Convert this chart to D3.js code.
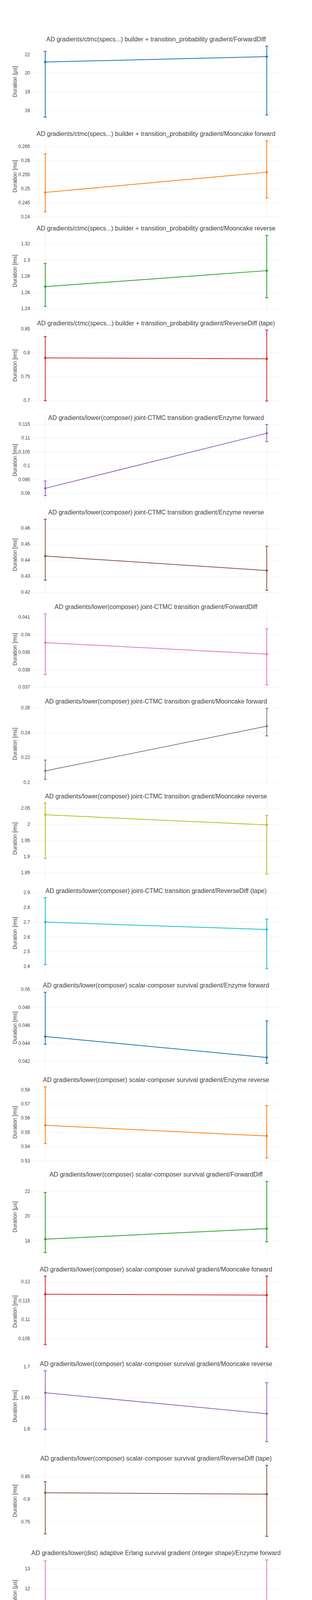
<!DOCTYPE html>
<html>
<head>
<meta charset="utf-8">
<script src="https://cdn.jsdelivr.net/npm/d3@7"></script>
<style>
  body { margin: 0; background: #fff; }
  svg { display: block; }
</style>
</head>
<body>
<div id="chart"></div>
<script>
// ---------------- data ----------------
const revisions = ["v0.1.0", "c41bf366a751375f2bccb2f2bb68ec67a6baf5c9"];

const titles = [
  "AD gradients/ctmc(specs...) builder + transition_probability gradient/ForwardDiff",
  "AD gradients/ctmc(specs...) builder + transition_probability gradient/Mooncake forward",
  "AD gradients/ctmc(specs...) builder + transition_probability gradient/Mooncake reverse",
  "AD gradients/ctmc(specs...) builder + transition_probability gradient/ReverseDiff (tape)",
  "AD gradients/lower(composer) joint-CTMC transition gradient/Enzyme forward",
  "AD gradients/lower(composer) joint-CTMC transition gradient/Enzyme reverse",
  "AD gradients/lower(composer) joint-CTMC transition gradient/ForwardDiff",
  "AD gradients/lower(composer) joint-CTMC transition gradient/Mooncake forward",
  "AD gradients/lower(composer) joint-CTMC transition gradient/Mooncake reverse",
  "AD gradients/lower(composer) joint-CTMC transition gradient/ReverseDiff (tape)",
  "AD gradients/lower(composer) scalar-composer survival gradient/Enzyme forward",
  "AD gradients/lower(composer) scalar-composer survival gradient/Enzyme reverse",
  "AD gradients/lower(composer) scalar-composer survival gradient/ForwardDiff",
  "AD gradients/lower(composer) scalar-composer survival gradient/Mooncake forward",
  "AD gradients/lower(composer) scalar-composer survival gradient/Mooncake reverse",
  "AD gradients/lower(composer) scalar-composer survival gradient/ReverseDiff (tape)",
  "AD gradients/lower(dist) adaptive Erlang survival gradient (integer shape)/Enzyme forward",
  "AD gradients/lower(dist) adaptive Erlang survival gradient (integer shape)/Enzyme reverse",
  "AD gradients/lower(dist) adaptive Erlang survival gradient (integer shape)/ForwardDiff",
  "AD gradients/lower(dist) adaptive Erlang survival gradient (integer shape)/Mooncake forward"
];

const units = ["μs","ms","ms","ms","ms","ms","ms","ms","ms","ms",
               "ms","ms","μs","ms","ms","ms","μs","ms","μs","ms"];

// first revision (v0.1.0)
const meanBase = [21.19, 0.2486, 1.2670, 0.7888, 0.09183, 0.44244, 0.039543, 0.20921, 2.0294, 2.700,
                  0.044742, 0.55488, 18.136, 0.11669, 1.65783, 0.81379, 10.171, 0.25605, 7.591, 0.038186];
const highBase = [22.33, 0.2624, 1.2957, 0.8333, 0.09448, 0.46544, 0.041195, 0.21792, 2.0658, 2.8658,
                  0.049681, 0.58193, 21.896, 0.12148, 1.6935, 0.83819, 13.386, 0.26967, 7.997, 0.04023];
const lowBase  = [15.27, 0.2417, 1.2427, 0.6992, 0.0892, 0.4274, 0.037717, 0.20233, 1.8943, 2.4116,
                  0.043882, 0.54193, 17.062, 0.10334, 1.59855, 0.72293, 9.871, 0.25, 7.231, 0.029086];
// second revision (commit)
const meanHead = [21.77, 0.2558, 1.2867, 0.7869, 0.11165, 0.43341, 0.038888, 0.24513, 1.9979, 2.65,
                  0.042393, 0.54736, 18.989, 0.11645, 1.62412, 0.8106, 10.333, 0.25601, 7.707, 0.037708];
const highHead = [22.89, 0.2670, 1.3301, 0.8472, 0.11476, 0.44863, 0.040336, 0.25937, 2.027, 2.7203,
                  0.04648, 0.56882, 22.79, 0.12148, 1.67424, 0.8744, 13.439, 0.26992, 8.934, 0.03955];
const lowHead  = [15.51, 0.2466, 1.2533, 0.6984, 0.10865, 0.42112, 0.037126, 0.23736, 1.8456, 2.3842,
                  0.041751, 0.53193, 17.924, 0.10269, 1.57898, 0.7175, 10.073, 0.24794, 7.297, 0.027858];

const xAxisTitle = "Revision";

// ---------------- layout ----------------
const W = 800, H = 5000;
const left = 80, right = 720;
const top0 = 100, pitch = 242.2, ph = 218.2;
const colors = d3.schemeCategory10;
const textColor = "#444";
const gridColor = "#eee";
const font = "'Liberation Sans', Arial, sans-serif";

const svg = d3.select("#chart").append("svg")
  .attr("width", W).attr("height", H)
  .style("font-family", font);

const x = d3.scalePoint().domain(revisions).range([left, right]).padding(0.0634);

function tickStep(span, len) {
  const nt = Math.max(4, Math.min(9, len / 40)) + 1;
  const rough = span / nt;
  const base = Math.pow(10, Math.floor(Math.log10(rough)));
  const m = [2, 5, 10].find(v => v >= rough / base - 1e-9);
  return base * m;
}

titles.forEach((title, i) => {
  const top = top0 + i * pitch, bottom = top + ph;
  const color = colors[i % colors.length];
  const lo = Math.min(lowBase[i], lowHead[i]);
  const hi = Math.max(highBase[i], highHead[i]);
  const pad = (hi - lo) * 0.1;
  const d0 = lo - pad, d1 = hi + pad;
  const y = d3.scaleLinear().domain([d0, d1]).range([bottom, top]);

  const step = tickStep(d1 - d0, ph);
  const dec = Math.max(0, -Math.floor(Math.log10(step) + 1e-9));
  const k0 = Math.ceil(d0 / step - 1e-9), k1 = Math.floor(d1 / step + 1e-9);
  const tickVals = d3.range(k0, k1 + 1).map(k => +(k * step).toFixed(dec + 2));

  const g = svg.append("g");

  // vertical grid lines (x categories)
  g.append("g").selectAll("line").data(revisions).join("line")
    .attr("x1", d => x(d)).attr("x2", d => x(d))
    .attr("y1", top).attr("y2", bottom)
    .attr("stroke", gridColor).attr("stroke-width", 1);

  // y axis with horizontal grid
  const yAxis = g.append("g")
    .attr("transform", `translate(${left},0)`)
    .call(d3.axisLeft(y).tickValues(tickVals)
      .tickSize(-(right - left)).tickPadding(3)
      .tickFormat(v => String(+v.toFixed(dec))));
  yAxis.select(".domain").remove();
  yAxis.selectAll(".tick line").attr("stroke", gridColor).attr("stroke-width", 1);
  yAxis.selectAll(".tick text")
    .attr("fill", textColor).style("font-size", "12px").style("font-family", font);

  // series
  const pts = [
    { rev: revisions[0], mean: meanBase[i], hi: highBase[i], lo: lowBase[i] },
    { rev: revisions[1], mean: meanHead[i], hi: highHead[i], lo: lowHead[i] }
  ];

  const eb = g.append("g").attr("stroke", color).attr("stroke-width", 2).attr("fill", "none");
  pts.forEach(p => {
    const px = x(p.rev);
    eb.append("path")
      .attr("d", `M${px},${y(p.lo)}V${y(p.hi)}M${px - 4},${y(p.hi)}H${px + 4}M${px - 4},${y(p.lo)}H${px + 4}`);
  });

  g.append("path").datum(pts)
    .attr("fill", "none").attr("stroke", color).attr("stroke-width", 2)
    .attr("d", d3.line().x(d => x(d.rev)).y(d => y(d.mean)));

  g.append("g").selectAll("circle").data(pts).join("circle")
    .attr("cx", d => x(d.rev)).attr("cy", d => y(d.mean)).attr("r", 3)
    .attr("fill", color);

  // subplot title
  g.append("text")
    .attr("x", (left + right) / 2).attr("y", top + 6)
    .attr("text-anchor", "middle")
    .attr("fill", textColor).style("font-size", "16px")
    .text(title);

  // y axis title
  g.append("text")
    .attr("transform", `translate(42.5,${(top + bottom) / 2}) rotate(-90)`)
    .attr("text-anchor", "middle")
    .attr("fill", textColor).style("font-size", "14px")
    .text(`Duration [${units[i]}]`);

  // shared x axis labels on the last panel
  if (i === titles.length - 1) {
    const xa = svg.append("g")
      .attr("transform", `translate(0,${bottom})`)
      .call(d3.axisBottom(x).tickSize(0).tickPadding(5));
    xa.select(".domain").remove();
    xa.selectAll(".tick text")
      .attr("fill", textColor).style("font-size", "12px").style("font-family", font);
    svg.append("text")
      .attr("x", (left + right) / 2).attr("y", bottom + 52)
      .attr("text-anchor", "middle")
      .attr("fill", textColor).style("font-size", "14px")
      .text(xAxisTitle);
  }
});
</script>
</body>
</html>
